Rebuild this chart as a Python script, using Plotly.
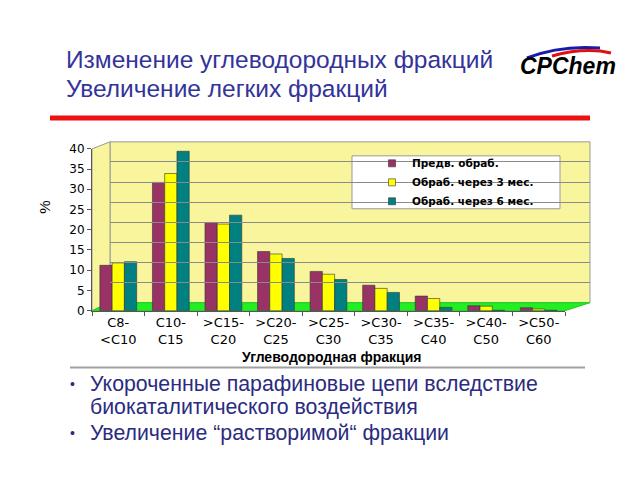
import plotly.graph_objects as go

categories = ["C8-<br>&lt;C10", "C10-<br>C15", "&gt;C15-<br>C20", "&gt;C20-<br>C25", "&gt;C25-<br>C30",
              "&gt;C30-<br>C35", "&gt;C35-<br>C40", "&gt;C40-<br>C50", "&gt;C50-<br>C60"]
series_names = ["Предв. обраб.", "Обраб. через 3 мес.", "Обраб. через 6 мес."]
pre_treat = [11.2, 31.7, 21.8, 14.6, 9.7, 6.3, 3.6, 1.2, 0.7]
after_3m = [11.8, 33.9, 21.4, 14.0, 9.0, 5.5, 3.0, 1.1, 0.4]
after_6m = [12.1, 39.4, 23.6, 12.9, 7.7, 4.5, 0.8, 0.1, 0.1]
y_ticks = [0, 5, 10, 15, 20, 25, 30, 35, 40]
colors = ["#993366", "#FFFF00", "#008080"]

W, H = 640, 480
def px(x): return (x - 8) / W
def py(y): return 1 - ((y - 14) / 0.972) / H

fig = go.Figure()
for name, vals, c in zip(series_names, [pre_treat, after_3m, after_6m], colors):
    fig.add_trace(go.Bar(x=categories, y=vals, name=name, marker_color=c,
                         marker_line=dict(color="#333333", width=0.6),
                         xaxis="x", yaxis="y", showlegend=False))
    fig.add_trace(go.Scatter(x=[None], y=[None], name=name, mode="markers",
                             marker=dict(symbol="square", size=7, color=c,
                                         line=dict(color="#333333", width=0.6)),
                             xaxis="x", yaxis="y"))
fig.add_trace(go.Scatter(x=[0], y=[0], xaxis="x2", yaxis="y2", mode="markers",
                         marker=dict(opacity=0), showlegend=False, hoverinfo="skip"))

wall = "#F8F59C"
shapes = [
    dict(type="rect", xref="paper", yref="paper", x0=px(110), x1=px(590), y0=py(302), y1=py(141),
         fillcolor=wall, line=dict(color="#999999", width=1), layer="below"),
    dict(type="path", xref="paper", yref="paper",
         path=f"M {px(92)},{py(310)} L {px(110)},{py(302)} L {px(110)},{py(141)} L {px(92)},{py(148)} Z",
         fillcolor=wall, line=dict(color="#999999", width=1), layer="below"),
    dict(type="path", xref="paper", yref="paper",
         path=f"M {px(92)},{py(310)} L {px(565)},{py(310)} L {px(590)},{py(302)} L {px(110)},{py(302)} Z",
         fillcolor="#22EE22", line=dict(color="#22CC22", width=1), layer="below"),
    dict(type="rect", xref="paper", yref="paper", x0=px(352), x1=px(560), y0=py(208), y1=py(155),
         fillcolor="white", line=dict(color="#999999", width=1), layer="below"),
    dict(type="line", xref="paper", yref="paper", x0=px(50), x1=px(590), y0=py(117), y1=py(117),
         line=dict(color="#EE1111", width=5)),
    dict(type="line", xref="paper", yref="paper", x0=px(70), x1=px(585), y0=py(367), y1=py(367),
         line=dict(color="#A0A0A0", width=2)),
    dict(type="path", xref="paper", yref="paper",
         path=f"M {px(527)},{py(57)} Q {px(560)},{py(44)} {px(600)},{py(47)}",
         line=dict(color="#1A1AAA", width=3)),
    dict(type="path", xref="paper", yref="paper",
         path=f"M {px(552)},{py(55)} Q {px(585)},{py(46)} {px(611)},{py(52)}",
         line=dict(color="#DD1111", width=3)),
]

title_color = "#333399"
annotations = [
    dict(text="Изменение углеводородных фракций", x=px(64), y=py(59), xref="paper", yref="paper",
         xanchor="left", yanchor="middle", showarrow=False,
         font=dict(family="Liberation Sans, Arial", size=24.5, color=title_color)),
    dict(text="Увеличение легких фракций", x=px(64), y=py(88), xref="paper", yref="paper",
         xanchor="left", yanchor="middle", showarrow=False,
         font=dict(family="Liberation Sans, Arial", size=24.5, color=title_color)),
    dict(text="<b><i>CPChem</i></b>", x=px(568), y=py(65), xref="paper", yref="paper",
         xanchor="center", yanchor="middle", showarrow=False,
         font=dict(family="Liberation Sans, Arial", size=23, color="black")),
    dict(text="%", x=px(45), y=py(207), xref="paper", yref="paper", textangle=-90,
         xanchor="center", yanchor="middle", showarrow=False,
         font=dict(family="Liberation Sans, Arial", size=15, color="black")),
    dict(text="<b>Углеводородная фракция</b>", x=px(331), y=py(356), xref="paper", yref="paper",
         xanchor="center", yanchor="middle", showarrow=False,
         font=dict(family="Liberation Sans, Arial", size=14, color="black")),
]
bullet_font = dict(family="Liberation Sans, Arial", size=21.3, color="#2B2B80")
for ytxt, txt, bullet in [(383, "Укороченные парафиновые цепи вследствие", True),
                          (406, "биокаталитического воздействия", False),
                          (433, "Увеличение “растворимой“ фракции", True)]:
    annotations.append(dict(text=txt, x=px(88), y=py(ytxt), xref="paper", yref="paper",
                            xanchor="left", yanchor="middle", showarrow=False, font=bullet_font))
    if bullet:
        annotations.append(dict(text="•", x=px(68), y=py(ytxt), xref="paper", yref="paper",
                                xanchor="left", yanchor="middle", showarrow=False,
                                font=dict(family="Liberation Sans, Arial", size=14, color="#2B2B80")))

fig.update_layout(
    width=W, height=H, margin=dict(l=0, r=0, t=0, b=0),
    paper_bgcolor="white", plot_bgcolor="rgba(0,0,0,0)",
    barmode="group", bargap=0.3, bargroupgap=0.0,
    font=dict(family="Liberation Sans, Arial", color="black"),
    shapes=shapes, annotations=annotations,
    legend=dict(x=px(372), y=py(148), xanchor="left", yanchor="top",
                bgcolor="rgba(0,0,0,0)", borderwidth=0,
                font=dict(family="DejaVu Sans", size=10.5, color="black", weight="bold"),
                itemwidth=30, tracegroupgap=0),
    xaxis=dict(domain=[px(92), px(565)], anchor="y", showgrid=False, showline=True,
               linecolor="#555555", ticks="outside", ticklen=4, tickcolor="#555555",
               tickson="boundaries", tickfont=dict(family="DejaVu Sans", size=13, color="black"),
               fixedrange=True),
    yaxis=dict(domain=[py(310), py(148)], anchor="x", range=[0, 40], tickvals=y_ticks,
               showgrid=False, showline=True, linecolor="#555555", ticks="outside",
               ticklen=4, tickcolor="#555555",
               tickfont=dict(family="DejaVu Sans", size=12, color="black"), zeroline=False),
    xaxis2=dict(domain=[px(110), px(590)], anchor="y2", range=[0, 1], visible=False),
    yaxis2=dict(domain=[py(302), py(141)], anchor="x2", range=[0, 40], tickvals=y_ticks,
                showgrid=True, gridcolor="#8A8A8A", gridwidth=1, showticklabels=False,
                zeroline=False, ticks=""),
)

fig.write_html("out.html")
